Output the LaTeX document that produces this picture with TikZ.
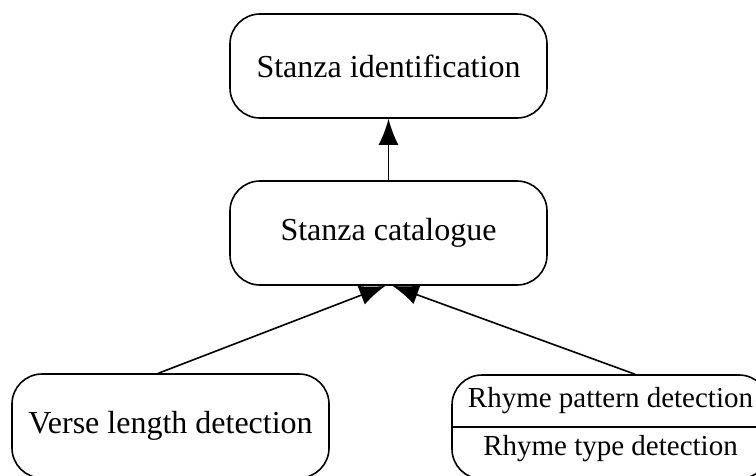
\documentclass[tikz,border=0pt]{standalone}
\usepackage{fontspec}
\setmainfont{Liberation Serif}
\usetikzlibrary{arrows.meta,calc}
\begin{document}
\begin{tikzpicture}[x=1pt,y=-1pt,
  box/.style={draw,line width=1.6pt,rounded corners=30pt,minimum width=317pt,minimum height=104pt,inner sep=0pt,font=\fontsize{32}{37}\selectfont},
  txt/.style={inner sep=0pt,font=\fontsize{29}{34}\selectfont},
  conn/.style={line width=1.6pt,-{Latex[length=26pt,width=20pt]}}]
\useasboundingbox (0,0) rectangle (756,475);
\clip (0,0) rectangle (756,475);
\node[box] (top) at (388.5,66) {Stanza identification};
\node[box] (cat) at (388.5,233) {Stanza catalogue};
\node[box] (vl) at (170.5,426) {Verse length detection};
\node[box] (rb) at (610.5,427) {};
\node[txt] (rp) at (610.5,401) {Rhyme pattern detection};
\node[txt] (rt) at (610.5,449) {Rhyme type detection};
\draw[line width=1.6pt] (rb.west) -- (rb.east);
\coordinate (lt) at ($(cat.south)+(-3,0)$);
\coordinate (rtp) at ($(cat.south)+(4,0)$);
\draw[conn] (cat.north) -- (top.south);
\draw[conn] ($(vl.north)+(-12,0)$) -- (lt);
\draw[conn] ($(rb.north)+(24.5,0)$) -- (rtp);
\end{tikzpicture}
\end{document}
